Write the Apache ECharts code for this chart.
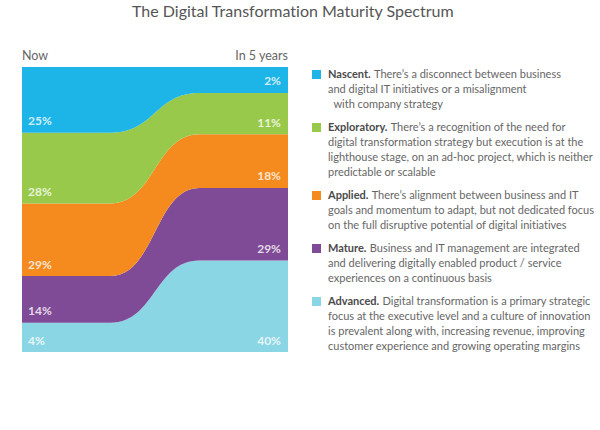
<!DOCTYPE html>
<html>
<head>
<meta charset="utf-8">
<script src="https://cdn.jsdelivr.net/npm/echarts@6.0.0/dist/echarts.min.js"></script>
<style>
  html, body { margin: 0; padding: 0; background: #fff; }
  #chart { width: 600px; height: 430px; }
  #chart text { font-variant-ligatures: none; }
</style>
</head>
<body>
<div id="chart"></div>
<script>
const stages = ["Nascent", "Exploratory", "Applied", "Mature", "Advanced"];
const periods = ["Now", "In 5 years"];
const nowShare = [25, 28, 29, 14, 4];
const laterShare = [2, 11, 18, 29, 40];
const stageColors = ["#1db4e8", "#98c94b", "#f58a1e", "#7f4a96", "#8bd6e4"];
const stageNotes = [
  ["There’s a disconnect between business", "and digital IT initiatives or a misalignment", "  with company strategy"],
  ["There’s a recognition of the need for", "digital transformation strategy but execution is at the", "lighthouse stage, on an ad-hoc project, which is neither", "predictable or scalable"],
  ["There’s alignment between business and IT", "goals and momentum to adapt, but not dedicated focus", "on the full disruptive potential of digital initiatives"],
  ["Business and IT management are integrated", "and delivering digitally enabled product / service", "experiences on a continuous basis"],
  ["Digital transformation is a primary strategic", "focus at the executive level and a culture of innovation", "is prevalent along with, increasing revenue, improving", "customer experience and growing operating margins"],
];

const font = "Lato";
// every band gets a little extra height so the thin ones stay readable
const bandFloor = 13;

const chart = echarts.init(document.getElementById("chart"), null, { renderer: "svg" });

const areaSeries = [];
const nowLabels = [];
const laterLabels = [];
let baseNow = 0;
let baseLater = 0;

// stack from the bottom: Advanced first, Nascent on top
for (let i = stages.length - 1; i >= 0; i--) {
  const hNow = nowShare[i] + bandFloor;
  const hLater = laterShare[i] + bandFloor;
  areaSeries.push({
    name: stages[i],
    type: "line",
    stack: "spectrum",
    smooth: 0.5,
    smoothMonotone: "x",
    showSymbol: false,
    symbol: "none",
    lineStyle: { width: 0 },
    areaStyle: { color: stageColors[i], opacity: 1 },
    itemStyle: { color: stageColors[i] },
    data: [hNow, hNow, hLater, hLater],
  });
  nowLabels.push([0, baseNow, nowShare[i]]);
  laterLabels.push([3, baseLater, laterShare[i]]);
  baseNow += hNow;
  baseLater += hLater;
}

const labelSeries = (data, side) => ({
  type: "scatter",
  symbolSize: 0.1,
  itemStyle: { color: "transparent" },
  z: 5,
  silent: true,
  data,
  label: {
    show: true,
    position: side,
    distance: side === "right" ? 6 : 7,
    offset: [0, -12],
    color: "#fff",
    fontFamily: font,
    fontWeight: "bold",
    fontSize: 12,
    formatter: (p) => p.value[2] + "%",
  },
});

// legend block on the right, one swatch + wrapped note per stage
const graphics = [];
let lineY = 75;
const lineH = 15;
stages.forEach((name, i) => {
  const notes = stageNotes[i];
  graphics.push({
    type: "rect",
    left: 312,
    top: lineY - 5,
    shape: { width: 9, height: 9 },
    style: { fill: stageColors[i] },
  });
  const text = notes
    .map((line, j) => (j === 0 ? "{b|" + name + ".} {t|" + line + "}" : "{t|" + line + "}"))
    .join("\n");
  graphics.push({
    type: "text",
    left: 328,
    top: lineY - lineH / 2,
    style: {
      text,
      rich: {
        b: { fontFamily: font, fontSize: 11, fontWeight: "bold", fill: "#4a4a4a", lineHeight: lineH },
        t: { fontFamily: font, fontSize: 11, fill: "#666", lineHeight: lineH },
      },
    },
  });
  lineY += notes.length * lineH + 8;
});

const options = {
  animation: false,
  title: {
    text: "The Digital Transformation Maturity Spectrum",
    left: 132,
    top: 2,
    padding: 0,
    textStyle: { fontFamily: font, fontSize: 16, fontWeight: "normal", color: "#555" },
  },
  grid: { left: 22, right: 312, top: 67, bottom: 78 },
  xAxis: {
    type: "category",
    position: "top",
    boundaryGap: false,
    data: [
      { value: periods[0], textStyle: { align: "left" } },
      "shiftStart",
      "shiftEnd",
      { value: periods[1], textStyle: { align: "right" } },
    ],
    axisLine: { show: false },
    axisTick: { show: false },
    splitLine: { show: false },
    axisLabel: {
      interval: 0,
      margin: 5,
      color: "#666",
      fontFamily: font,
      fontSize: 12.5,
      alignMinLabel: "left",
      alignMaxLabel: "right",
      formatter: (v) => (periods.includes(v) ? v : ""),
    },
  },
  yAxis: {
    type: "value",
    min: 0,
    max: 100 + stages.length * bandFloor,
    show: false,
  },
  graphic: graphics,
  series: [...areaSeries, labelSeries(nowLabels, "right"), labelSeries(laterLabels, "left")],
};

chart.setOption(options);
</script>
</body>
</html>
